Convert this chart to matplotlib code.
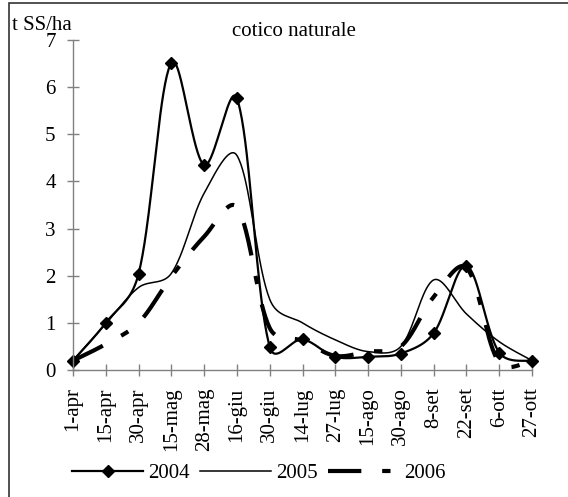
import numpy as np
import matplotlib.pyplot as plt
from matplotlib.lines import Line2D
from matplotlib.patches import Rectangle

plt.rcParams['font.family'] = ['Liberation Serif', 'DejaVu Serif']
plt.rcParams['font.size'] = 15

dates = ["1-apr", "15-apr", "30-apr", "15-mag", "28-mag", "16-giu", "30-giu",
         "14-lug", "27-lug", "15-ago", "30-ago", "8-set", "22-set", "6-ott", "27-ott"]
y2004 = [0.2, 1.0, 2.04, 6.52, 4.35, 5.76, 0.49, 0.65, 0.28, 0.28, 0.35, 0.78, 2.21, 0.37, 0.19]
y2005 = [0.2, 0.98, 1.75, 2.05, 3.75, 4.55, 1.5, 1.0, 0.64, 0.39, 0.5, 1.91, 1.19, 0.6, 0.2]
y2006 = [0.2, 0.55, 1.0, 1.98, 2.83, 3.45, 0.89, 0.62, 0.3, 0.39, 0.5, 1.55, 2.17, 0.15, 0.2]

# pixel size of one category step / one y unit, used only to shape the smoothing
PX_X = 32.8
PX_Y = 47.1


def smooth(y, n=40):
    """Bezier smoothing through every point (spreadsheet-style smoothed line)"""
    p = np.column_stack([np.arange(len(y)) * PX_X, np.asarray(y, dtype=float) * PX_Y])
    m = len(p)
    h_in = np.zeros_like(p)
    h_out = np.zeros_like(p)
    for i in range(m):
        prv = p[max(i - 1, 0)]
        nxt = p[min(i + 1, m - 1)]
        d = (nxt - prv) / 6
        a = np.linalg.norm(p[i] - prv)
        b = np.linalg.norm(nxt - p[i])
        if i == 0 or i == m - 1:
            h_in[i] = d
            h_out[i] = d
        else:
            h_in[i] = d * np.sqrt(2 * a / (a + b))
            h_out[i] = d * np.sqrt(2 * b / (a + b))
    t = np.linspace(0, 1, n)[:, None]
    out = []
    for i in range(m - 1):
        b0 = p[i]
        b1 = p[i] + h_out[i]
        b2 = p[i + 1] - h_in[i + 1]
        b3 = p[i + 1]
        seg = ((1 - t) ** 3) * b0 + 3 * ((1 - t) ** 2) * t * b1 \
            + 3 * (1 - t) * t ** 2 * b2 + t ** 3 * b3
        out.append(seg if i == 0 else seg[1:])
    out = np.vstack(out)
    return out[:, 0] / PX_X, out[:, 1] / PX_Y


fig = plt.figure(figsize=(5.68, 4.97), dpi=100)
ax = fig.add_axes([73 / 568, 1 - 370 / 497, (532 - 73) / 568, (370 - 40) / 497])

x = np.arange(len(dates))
DASH = (8, 5, 2, 5)

sx, sy = smooth(y2006)
ax.plot(sx, sy, color="black", lw=3.0, dashes=DASH, clip_on=False)
sx, sy = smooth(y2005)
ax.plot(sx, sy, color="black", lw=1.1, clip_on=False)
sx, sy = smooth(y2004)
ax.plot(sx, sy, color="black", lw=1.6, clip_on=False)
ax.plot(x, y2004, ls="none", marker="D", ms=6.5, color="black", clip_on=False)

ax.set_xlim(0, len(dates) - 1)
ax.set_ylim(0, 7)
ax.set_xticks(x)
ax.set_xticklabels(dates, rotation=90)
ax.set_yticks(range(0, 8))

for s in ["top", "right"]:
    ax.spines[s].set_visible(False)
for s in ["left", "bottom"]:
    ax.spines[s].set_color("#808080")
    ax.spines[s].set_linewidth(1.0)
ax.tick_params(direction="inout", length=8, width=1, color="#808080", pad=8.5)

fig.text(294 / 568, 1 - 32 / 497, "cotico naturale", ha="center", va="center")
fig.text(12 / 568, 1 - 25 / 497, "t SS/ha", ha="left", va="center")

handles = [
    Line2D([], [], color="black", lw=1.6, marker="D", ms=6.5),
    Line2D([], [], color="black", lw=1.1),
    Line2D([], [], color="black", lw=3.0, dashes=DASH),
]
fig.legend(handles, ["2004", "2005", "2006"], loc="center",
           bbox_to_anchor=(259 / 568, 1 - 473 / 497), ncol=3, frameon=False,
           handlelength=3.4, handletextpad=0.25, columnspacing=0.5)

fig.patches.append(Rectangle((9 / 568, -0.05), 1.2, 1.05 - 3 / 497, transform=fig.transFigure,
                             fill=False, ec="#333333", lw=1.2))

fig.savefig("out.png", dpi=100)
